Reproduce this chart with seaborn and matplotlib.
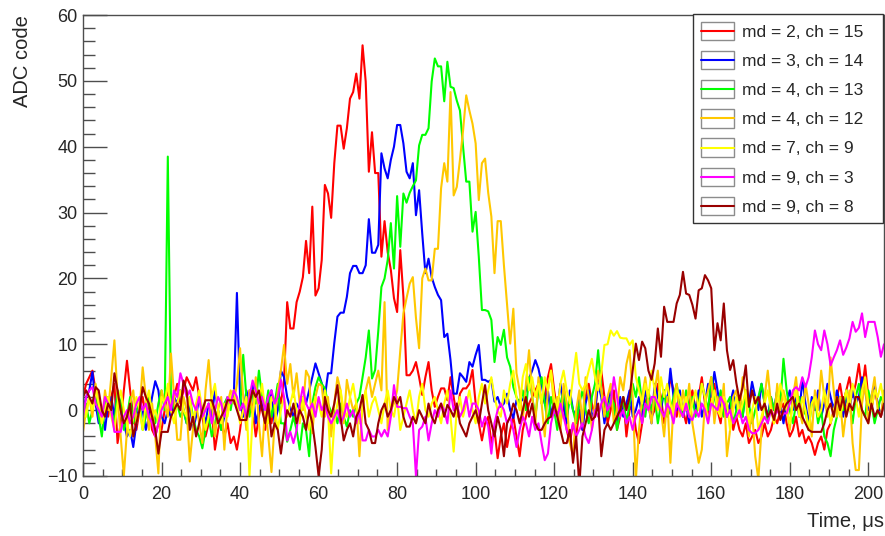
import numpy as np
import pandas as pd
import matplotlib
matplotlib.use("Agg")
import matplotlib.pyplot as plt
import seaborn as sns
from matplotlib.patches import Rectangle
from matplotlib.lines import Line2D
from matplotlib.legend_handler import HandlerBase
from matplotlib.ticker import MultipleLocator

# sample step, us (256 samples)
dt = 0.8

labels = ["md = 2, ch = 15", "md = 3, ch = 14", "md = 4, ch = 13", "md = 4, ch = 12",
          "md = 7, ch = 9", "md = 9, ch = 3", "md = 9, ch = 8"]
colors = ["#ff0000", "#0000ff", "#00ff00", "#ffc800", "#ffff00", "#ff00ff", "#990000"]

# one row = 16 samples = 12.8 us
md2_ch15 = [
    2, 4, 5, 6, 3, 0, -2, 1, -1, 2, 4, -5, -2, 3, 7.5, 3,
    -1, -3, 0, 2, -1, 1, -3, -4, -2, -3, 0, 3, -1, 2, 4, 1,
    3, 5, 4, 3, 5, 2, -1, -4, -2, 0, -6, -3, -1, -4, -2, -5,
    -4, -6, -3, 1, -2, 3, 0, -4, -1, 2, -3, 0, -2, 1, 3, 1,
    4.6, 16.4, 12.4, 12.4, 16.4, 18, 20.2, 25.7, 20.8, 30.9, 17.4, 18.5, 22.8, 34.2, 32.9, 29.2,
    37.5, 43.2, 43.2, 39.7, 42.8, 47.3, 48.3, 51.1, 47.3, 55.4, 49.9, 36.2, 42.2, 36, 36, 23.3,
    28.7, 24, 21.3, 17, 14.9, 24.3, 17.2, 5.3, 5.3, 6, 7.3, 5, 2.3, 5, 7.3, 3,
    0.5, 2, 3.3, 3.3, 1.5, 5, 2, -1, 2.5, 3.3, 3.3, 4, 6.1, 1, -2, -4.6,
    -2, -1, -5, -3, -7.3, -4, -2, -5.6, -3, -1, -4, -7, -3, -1, 1, 2,
    3, 4, 1, 2, 5, 7, 3, 0, -2, 1, -3, -5, -2, -4, 0, -3,
    2, 4, 1, -1, 5, 6, 2, -2, 0, 3, -3, -1, 2, -4, 0, 1,
    -3, -5, -2, 1, 3, -1, 0, 4, 2, -2, 1, 5, 3, -1, 2, 0,
    -2, 1, 3, 0, 2, 5, 1, -1, 3, 4, 0, -2, 2, -1, 1, -3,
    -1, -3, -4, -2, -5, -4, -3, -5, -4, -2, -4, -3, -1, -2, 0, 1,
    -2, -4, -3, -1, -4, -3, -5, -4, -5, -6.8, -5, -4, -6, -3, -2, 0,
    2, 4, 1, 3, 5, 2, 4, 7, 3, 6.8, 2, 0, 3, 1, -1, 1,
]
md3_ch14 = [
    0, 2, 3, 5.8, 1, -2, 0, -3, 1, 2, -1, 3, 0, -2, -4, -3,
    -5.6, -2, 1, 0, -3, -1, 2, 4.4, 3, -1, -2, 0, -1, 2, 1, 3,
    0, -2, 1, -3, -1, 2, 0, -2, 1, -1, 3, 0, -3, -1, 1, 2,
    2, 17.8, 2, -1, 3, 1, 4, -2, 0, 2, -1, 1, 3, -2, 0, 6,
    5, 2, 0.3, -1, 1, 0, 2, 1, 3, 5, 7.1, 5.6, 4.1, 2, 5.6, 5.6,
    10.2, 14.2, 14.8, 14.8, 17.2, 20.8, 21.9, 21.9, 20.8, 20.8, 22, 29, 23.9, 23.9, 25.1, 39,
    36.7, 35.2, 38, 40, 43.3, 43.3, 40.5, 36.2, 35.2, 37.5, 29.6, 33.4, 26.8, 20.8, 23, 20.2,
    18.7, 17.5, 16.7, 11.1, 11.6, 7.6, 2.5, 2.5, 5.6, 5, 4.3, 7.3, 6.6, 8.4, 9.9, 4.6,
    4.6, 4.3, 4.6, 1.3, 2, 0.5, 1, 2.5, 0, -1.2, 1.5, 1.5, 1.5, 3, 4.8, 6,
    7.6, 6.3, 4, 1, 3, -1, 2, 0, 4, 1, -2, 3, 0, -1, 2, -3,
    1, 3, -1, 0, 4, 2, -2, 1, 3, 0, -2, 2, -1, 1, 3, -1,
    0, 2, -1, 3, 1, -2, 4, 2, 0, 3, 1, 6.3, 2, 0, 3, -1,
    1, -2, 2, 0, 3, -1, 1, 4, 2, 5.8, 3, 0, 2, -1, 1, 3,
    0, 2, -1, 3, 1, 4.3, 2, 0, 4, 1, -1, 2, 0, 3, 1, -2,
    1, 3, 0, 2, -1, 4.8, 1, -2, 2, 0, 3, -1, 1, 4, 2, 0,
    3, 1, -1, 2, 0, 3, 1, 2, 5, 3, 0, 2, 4, 1, -1, 2,
]
md4_ch13 = [
    -1, 1, -2, 0, 3, -1, -4, 1, 2, 0, -2, 3, 1, -3, -1, 2,
    -2, 0, 1, -3, -1, 2, 0, -2, 1, 3, 0, 38.5, 2, 0, 1, -1,
    0, -2, 2, -1, -3, -4, -5.8, -3, -1, -4, -2, 0, -3, 1, 2, 0,
    3, 1, 0, 8.4, 2, -1, 3, 1, 6, 2, 0, 3, -1, 1, 4, -2,
    -2, -4.8, -3, -1, -3, -6, -2, -3, -7, 1, 3.5, 5, 4, 3.3, 1, -0.3,
    0, -2, 1, -1, -2.5, 0, -1, 1, 2, 5, 8, 12.1, 4.8, 6.1, 12, 18.7,
    20, 22.8, 28.4, 21.5, 32.5, 24.8, 32.9, 31.5, 33, 34, 34.9, 40.2, 41.8, 41.8, 42.8, 49.9,
    53.4, 52.2, 52.2, 46.9, 52.9, 49.1, 48.9, 47, 45.5, 40, 34.7, 34.7, 27.1, 30.1, 23.3, 15.2,
    15.2, 15, 13.7, 7.3, 11.1, 9.9, 12.2, 8, 6.6, 3.5, 2, 1, 3, 0, 5, 2,
    -1, 3, 5, 1, -2, 2, 0, -3, 1, 3, -1, 2, 0, -2, 1, 3,
    0, -2, 2, 4, 9.1, 3, 0, -1, 2, 1, -3, 0, 2, -2, 1, 4,
    2, 5, 1, -1, 3, 0, 2, -2, 1, 3, -1, 0, 2, 4, 1, -1,
    3, 0, 2, -1, 1, 4, 2, 0, 5, 2, 0, 3, -1, 1, 2, -2,
    0, 2, -1, 3, 1, -2, 0, 2, 4, 1, -2, 2, 0, 3, 1, 7.8,
    3, 0, -2, 1, 2, -1, 0, -3, 1, 2, -2, 0, -4, -5, -7, -3,
    -1, 2, 0, 3, 1, -2, 2, 4, 0, -1, 3, 1, -2, 0, 2, 1,
]
md4_ch12 = [
    -3.3, 0, 2, -1, 4, 1, -2, 3, 0, 5, 10.6, 2, -4, -10, -3, 1,
    3, -2, 0, 6.5, 2, -3, 1, -4, -9.6, 3, 1, -1, 8.6, 2, -4.5, -4.5,
    2, 0, -7.8, -3, 1, -2, -5, 3, 7.6, 1, -4, 0, 2, -6, 1, 3,
    1, 4, 9.4, 2, -3, 3, -1, 5, -2, -7, 1, -4, -9.4, -2, 3, 6,
    9.9, 4, 7, 2, 5.6, 1, 0, 6, 5, -3.5, 2, 4, 3.7, -1, 2, -4,
    1, 5, 3, -2, 4.6, 2, 0, 1, -7, 1, 3, 5, 2, 4, 6, 3,
    16.4, -3, 0, 1, 3, 9, 14.7, 17, 19.2, 20.2, 14, 9.4, 20, 21.5, 19.7, 19.7,
    24.5, 24.5, 33.7, 37.5, 34.7, 48.3, 32.6, 33.9, 38, 42.5, 47.8, 45.5, 43.5, 40.5, 31.9, 37.5,
    38.2, 33, 29.4, 20.8, 28.7, 28.7, 22, 16, 10.1, 15.4, 5.6, 3, -1.5, 4, 9.1, 2,
    -2, 5, 1, -4, 3, 6, 0, 2, -3, 4, 1, -5, -7, 0, 3, -2,
    5, 2, -3, 1, 6, 3, -1, 2, 4, -2, 0, 5, 3, 7, 9.1, 2,
    -10.6, -3, 2, 5, 1, -2, 3, 6, 0, -4, 2, -8, 1, 4, -1, 3,
    0, 4, -2, -5, -8, -6, 1, 3, 5, -2, 2, -1, 4, -7, -3, 2,
    3, -1, 5, 2, -4, 0, -7, -10.5, -3, 2, 6, 1, -2, 4, 0, 3,
    1, -3, 2, 5, 0, -2, 4, 1, -4, 3, 0, 6, 2, -1, 8, 3,
    -1, 2, -4, 0, 3, -5, -9.1, -9.1, 1, 4, -2, 2, 5, 0, -1, 3,
]
md7_ch9 = [
    1, -1, 2, 0, 3, 1, -2, 0, 2, -1, -3, 1, 3, 0, -2, -4,
    -1, 2, 0, -3, 1, 3, -1, 0, -2, 2, 1, 4, 0, -2, 1, 3,
    0, -1, 2, -2, 1, 3, 0, -3, -1, 2, 4, 0, -2, 1, -1, 2,
    3, 1, -2, 0, 2, -10, -1, 3, 1, 4, 0, -2, 2, 1, -3, 0,
    2, -1, 1, 3, 0, -2, 2, -1, -3, 0, 2, 1, -1, 3, 0, -9.6,
    -2, 1, 3, 0, -1, 2, 4, 1, -2, 0, 3, -1, 1, 2, 0, -2,
    1, 3, 0, -1, 2, -3, -1, 1, 3, 0, -2, 2, 4, 0, -1, 1,
    2, 0, -2, 1, 3, -1, -6.3, 0, 2, -1, 1, 3, 0, -2, 2, 4,
    1, 3, 5, 2, 0, -1, 3, 1, 4, 6, 2, 0, 5, 7, 3, 5,
    2, 4, 1, 5, 3, 6, 2, 0, 4, 6, 3, 1, 5, 8.7, 4, 3,
    4, 6, 7.8, 5, 3, 5.6, 9.9, 10, 12.1, 11.3, 12, 11, 10.9, 10.9, 9.9, 10.6,
    5, 3, 1, 4, 2, 6, 3, 0, 5, 2, 4, 1, -1, 3, 2, 0,
    2, -1, 1, 3, 0, 4, 2, -2, 1, 3, 0, -1, 2, 1, -3, 0,
    2, -1, 1, 3, -2, 0, 2, -3, -1, 1, 3, 0, -2, 1, 4, 2,
    0, -2, 1, 3, -1, 2, 0, -3, 1, 2, -1, 0, 3, 1, -2, 0,
    2, -1, 1, 3, 0, 4, 2, -1, 3, 5, 1, 0, 3, 2, 4, 1,
]
md9_ch3 = [
    -1, 2, 3, 3.5, 1, 0, -1, 2, 1, 0, -3.3, -3.3, -3.3, -1, 0, -2,
    -1, 1, 2, 0, 1, -1, -2, -4, -2, 0, 1, 2, 0, 3, 2, 5.6,
    4, 2, 3, 1, 0, 2, -1, 0, 1, -2, 0, 2, 1, -1, 2, 1,
    3, 2, 0, 1, -1, 2, 4.5, 3, 1, 2, 0, 2, 3, 1, 2, 4.6,
    2, -4.6, -3.3, -5, -3, 1, 3.5, 1, 0, 1, -1, 2, 0, 1, -1, -2,
    -1, 0, -2, -1, 1, -1, 0, -2, 0, -4.6, -4.6, -3, -4, -4, -3, -4,
    -3, -4, -1, 3.8, 0.5, 0.5, 0.3, 0.3, -1, -2, -10, -3, -2.5, -1, -4.6, -2,
    0, -1, 1, 0, -2, 3, 0, 1, -1, 0, 2, -1, 1, 1, 0, -2.5,
    -1, -2.5, -6.6, -2, 0, 1, 0, -2, -1, -3, -5.6, -3, -1, -2, -4, -1,
    -3, -2, -5, -7.6, -6.6, -2, 0, -1, 1, -1, -3, -4, -2, -4, -3, -2,
    -4, -5, -3, 0, -1, 1, 2, 0, 1, 5, 2, -1, 0, -2, -1, -3,
    -1, 0, -2, 1, 0, 2, 2, 1, 0, -1, 1, 0, -2, 1, 0, -1,
    1, -1, -1.5, 0, -1, 1, 0, -2, 1, 0.5, 0, 2, 1, -1, 0, -2,
    -1, 0, -2, -1, -3, -3.5, -3.5, -3, -2, -1, -2, 0, -1, 0, -1, -0.5,
    -0.5, 1, 3, 3.5, 3, 5, 3.5, 5, 8, 12.1, 10, 9.1, 12.1, 10, 6.8, 8,
    9.1, 10.6, 8.4, 9.5, 10.9, 13.4, 11.9, 12.5, 14.7, 11.1, 13.4, 13.4, 13.4, 11.1, 8.1, 10,
]
md9_ch8 = [
    2, 3, 2, 1, 3.5, 3, 0, -1, 1, 0, 5.6, 3, 0, -2, -1, 1,
    -4, -2, 0, 3.5, 2, 1, -1, -3, -6.6, -3.3, -3.3, -3.3, -1, 0, 1, 0,
    4.5, 3, -3, -1, -4, -2, 0, 1.5, 1.5, 1.5, 0, -2, -1, 0, 1.5, 1.5,
    1.5, 0, -1.5, -1.5, -1.5, 1, 3, 2, 3, 0, -2, 1, -4, -2, -3, -6.6,
    -3, 0, -1, 1, -2, 0, -1, -3, 0, -2, -5.6, -10, -6, 2, 0, -1,
    1, 3.8, -1, -4.6, -3, -2, -4, -1, 0, 2.3, -2, -3, -5, -5, -2, 0,
    1, -1, 0, 2, 1, 2, -1, -2.5, -2.5, -1, -2, 0, -1, -2, 1, -1,
    -2, 0, 1, -1, 0.8, 0, -1, 1, -2, -3, -4, -2, -1, 0, -2, 1,
    3.8, 0, -2, -4, -1, -3, -7, -2, -1, 1, 0, -2, 0, 2, -1, 1,
    -2, -3, -3, -2, -1.3, -1, 1, -1, -3, -5, -5, -3, -8, -4, -11.5, -4,
    -2, 0, -1.5, -1, 1, -7, -3, -2, -3, -2, -1, 0, 2, 0, 2, 6,
    10.1, 7.6, 10.4, 9.4, 6, 4.6, 7.1, 12.4, 8.1, 15.7, 13.4, 13.4, 13.4, 16.2, 17.5, 21,
    17.7, 17.5, 16, 13.9, 18.2, 18.5, 20.5, 19.7, 18.5, 9.1, 13.2, 10.6, 16.2, 9.1, 6.1, 7.6,
    4.1, 1.5, 3.5, 6.8, 0.5, 3, 1, 2, 0, 1, -1, 0, -1.5, 1, -1.5, 0,
    1, 1.5, 2, 0, 1, -1, -2, -3, -3.3, -3.3, -3.3, -3.3, -2, 0, 1, -1,
    2, 0, 2, -1, 1, 0, 2, 2, 0, -1, -2, 1, -1, 0, -1, 1,
]

series = [md2_ch15, md3_ch14, md4_ch13, md4_ch12, md7_ch9, md9_ch3, md9_ch8]

frames = []
for lab, vals in zip(labels, series):
    assert len(vals) == 256, (lab, len(vals))
    frames.append(pd.DataFrame({"t": np.arange(len(vals)) * dt, "adc": vals, "ch": lab}))
df = pd.concat(frames, ignore_index=True)


# ROOT-like legend entry: small framed box with the line across its middle
class BoxLine(HandlerBase):
    def create_artists(self, legend, orig_handle, xdescent, ydescent, width, height, fontsize, trans):
        box = Rectangle((-xdescent, -ydescent), width, height, facecolor="white",
                        edgecolor="0.55", lw=1, transform=trans)
        y = -ydescent + height / 2
        ln = Line2D([-xdescent, -xdescent + width], [y, y], color=orig_handle.get_color(),
                    lw=1.5, transform=trans)
        return [box, ln]


sns.set_style("ticks")
plt.rcParams["font.family"] = ["Liberation Sans", "DejaVu Sans"]

fig = plt.figure(figsize=(8.85, 5.36), dpi=100)
ax = fig.add_axes([83 / 885, 60 / 536, 801 / 885, 461 / 536])

sns.lineplot(data=df, x="t", y="adc", hue="ch", hue_order=labels, palette=colors,
             estimator=None, sort=False, lw=1.5, legend=False, ax=ax)

ax.set_xlim(0, 204)
ax.set_ylim(-10, 60)
ax.xaxis.set_major_locator(MultipleLocator(20))
ax.xaxis.set_minor_locator(MultipleLocator(5))
ax.yaxis.set_major_locator(MultipleLocator(10))
ax.yaxis.set_minor_locator(MultipleLocator(2))

ax.tick_params(axis="y", which="major", direction="in", length=17, width=1, color="0.3",
               labelsize=13, pad=4)
ax.tick_params(axis="y", which="minor", direction="in", length=8.5, width=1, color="0.3")
ax.tick_params(axis="x", which="major", direction="in", length=10, width=1, color="0.3",
               labelsize=13, pad=7)
ax.tick_params(axis="x", which="minor", direction="in", length=5, width=1, color="0.3")
for s in ax.spines.values():
    s.set_color("0.3")
    s.set_linewidth(1)

ax.set_xlabel("Time, μs", fontsize=14.5, ha="right")
ax.set_ylabel("ADC code", fontsize=14.5, ha="right")
ax.xaxis.set_label_coords(1.0, -0.078)
ax.yaxis.set_label_coords(-0.064, 1.0)

handles = [Line2D([], [], color=c) for c in colors]
leg = ax.legend(handles, labels, handler_map={Line2D: BoxLine()},
                loc="upper left", bbox_to_anchor=(0.7615, 0.555, 0.2373, 0.447),
                mode="expand", fontsize=12.5, handlelength=1.9, handleheight=1.25,
                handletextpad=0.45, labelspacing=0.62, borderpad=0.45,
                borderaxespad=0, frameon=True, fancybox=False, framealpha=1)
leg.get_frame().set_edgecolor("0.2")
leg.get_frame().set_linewidth(1)

fig.savefig("out.png", dpi=100)
